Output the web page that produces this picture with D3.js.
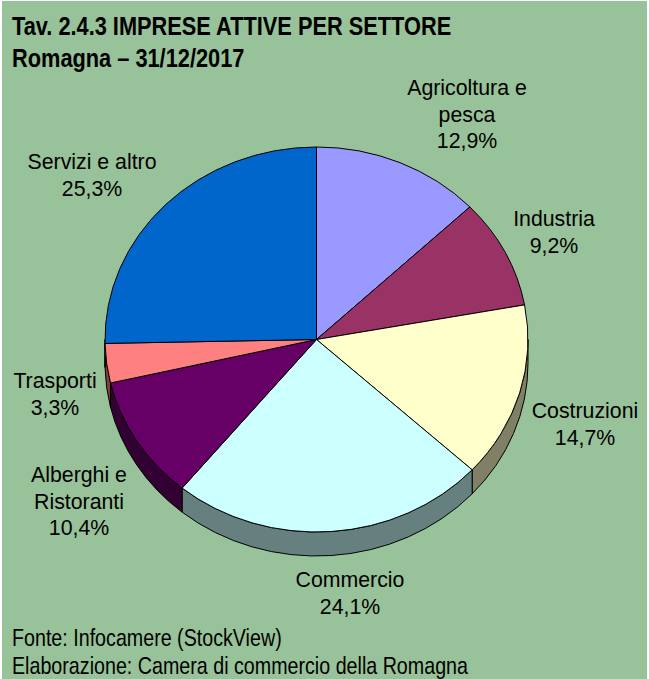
<!DOCTYPE html>
<html>
<head>
<meta charset="utf-8">
<script src="https://cdn.jsdelivr.net/npm/d3@7"></script>
<style>
  html, body { margin: 0; padding: 0; background: #fff; }
  svg { display: block; }
  .label { font-family: "Liberation Sans", Arial, sans-serif; font-size: 21.3px; fill: #000; }
  .title { font-family: "Liberation Sans", Arial, sans-serif; font-weight: bold; font-size: 26px; }
  .note { font-family: "Liberation Sans", Arial, sans-serif; font-size: 24px; }
</style>
</head>
<body>
<svg id="chart" width="649" height="679"></svg>
<script>
// dati
const categories = ["Agricoltura e pesca", "Industria", "Costruzioni", "Commercio", "Alberghi e Ristoranti", "Trasporti", "Servizi e altro"];
const shares = [12.9, 9.2, 14.7, 24.1, 10.4, 3.3, 25.3];
const labelLines = [["Agricoltura e", "pesca"], ["Industria"], ["Costruzioni"], ["Commercio"], ["Alberghi e", "Ristoranti"], ["Trasporti"], ["Servizi e altro"]];
const colors = ["#9999ff", "#993366", "#ffffcc", "#ccffff", "#660066", "#ff8080", "#0066cc"];
const titleLines = ["Tav. 2.4.3 IMPRESE ATTIVE PER SETTORE", "Romagna \u2013 31/12/2017"];
const noteLines = ["Fonte: Infocamere (StockView)", "Elaborazione: Camera di commercio della Romagna"];

// layout
const labelAnchors = [[467, 95], [554, 226], [585, 418], [350, 587], [79, 482], [55, 388], [92, 169]];
const cx = 316.5, cy = 339.5, rx = 211.5, ry = 192.5, depth = 24;
const lineH = 26.5;

const svg = d3.select("#chart");
svg.append("rect").attr("x", 2).attr("y", 1).attr("width", 645).attr("height", 678).attr("fill", "#98c299");

const pie = d3.pie().sort(null).value(d => d);
const arcs = pie(shares);

const pt = (a, dy = 0) => [cx + rx * Math.sin(a), cy - ry * Math.cos(a) + dy];
const shade = c => { const r = d3.rgb(c); return d3.rgb(r.r / 2, r.g / 2, r.b / 2); };

// pareti laterali (solo metà anteriore)
const sides = svg.append("g");
arcs.forEach((d, i) => {
  const a0 = Math.max(d.startAngle, Math.PI / 2);
  const a1 = Math.min(d.endAngle, 3 * Math.PI / 2);
  if (a1 <= a0) return;
  const s = pt(a0), e = pt(a1), eb = pt(a1, depth), sb = pt(a0, depth);
  sides.append("path")
    .attr("d", `M${s}A${rx},${ry} 0 0 1 ${e}L${eb}A${rx},${ry} 0 0 0 ${sb}Z`)
    .attr("fill", shade(colors[i]))
    .attr("stroke", "#000")
    .attr("stroke-width", 1);
});

// facce superiori
const arc = d3.arc().innerRadius(0).outerRadius(rx);
svg.append("g")
  .attr("transform", `translate(${cx},${cy}) scale(1,${ry / rx})`)
  .selectAll("path")
  .data(arcs)
  .join("path")
  .attr("d", arc)
  .attr("fill", (d, i) => colors[i])
  .attr("stroke", "#000")
  .attr("stroke-width", 1)
  .attr("vector-effect", "non-scaling-stroke");

// etichette
const fmt = v => d3.format(".1f")(v).replace(".", ",") + "%";
const labels = svg.append("g").attr("text-anchor", "middle");
arcs.forEach((d, i) => {
  const [x, y] = labelAnchors[i];
  const t = labels.append("text").attr("class", "label");
  labelLines[i].concat([fmt(shares[i])]).forEach((line, k) => {
    t.append("tspan").attr("x", x).attr("y", y + k * lineH).text(line);
  });
});

// titolo e note (carattere stretto simulato)
titleLines.forEach((line, k) => {
  svg.append("text").attr("class", "title")
    .attr("transform", `translate(12,${35 + k * 32}) scale(0.838,1)`)
    .text(line);
});
noteLines.forEach((line, k) => {
  svg.append("text").attr("class", "note")
    .attr("transform", `translate(12,${646 + k * 28}) scale(0.82,1)`)
    .text(line);
});
</script>
</body>
</html>
